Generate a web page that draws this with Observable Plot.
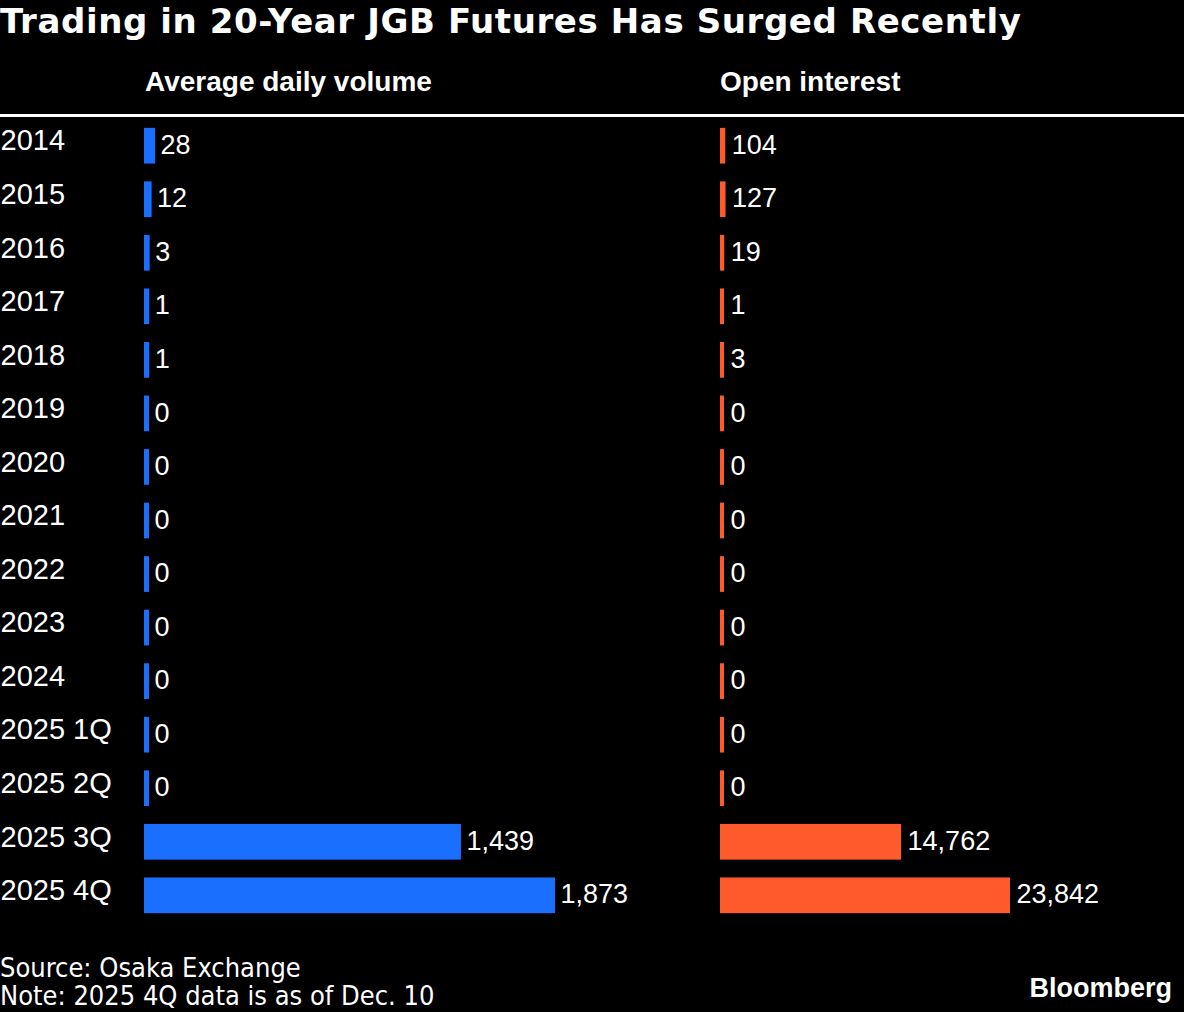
<!DOCTYPE html>
<html>
<head>
<meta charset="utf-8">
<script src="https://cdn.jsdelivr.net/npm/d3@7"></script>
<script src="https://cdn.jsdelivr.net/npm/@observablehq/plot@0.6"></script>
<style>
  html, body { margin: 0; padding: 0; background: #000; overflow: hidden; }
  #root { position: relative; width: 1184px; height: 1012px; background: #000; color: #fff; }
  .abs { position: absolute; white-space: nowrap; line-height: 1; }
  .title { font-family: "DejaVu Sans", sans-serif; font-weight: bold; font-size: 34px; letter-spacing: 0.6px; left: 0; top: 4px; }
  .head { font-family: "Liberation Sans", Arial, sans-serif; font-weight: bold; font-size: 28px; top: 68px; }
  .rule { position: absolute; left: 0; top: 114px; width: 1184px; height: 3px; background: #fff; }
  .foot { font-family: "DejaVu Sans", sans-serif; font-stretch: condensed; font-size: 27px; left: 0; }
  .brand { font-family: "Liberation Sans", Arial, sans-serif; font-weight: bold; font-size: 27px; right: 12px; top: 975px; }
  svg { position: absolute; top: 0; }
</style>
</head>
<body>
<div id="root">
  <div class="abs title">Trading in 20-Year JGB Futures Has Surged Recently</div>
  <div class="abs head" style="left:145px">Average daily volume</div>
  <div class="abs head" style="left:720px">Open interest</div>
  <div class="rule"></div>
  <div id="p1"></div>
  <div id="p2"></div>
  <div class="abs foot" style="top:954px">Source: Osaka Exchange</div>
  <div class="abs foot" style="top:982px">Note: 2025 4Q data is as of Dec. 10</div>
  <div class="abs brand">Bloomberg</div>
</div>
<script>
const categories = ["2014","2015","2016","2017","2018","2019","2020","2021","2022","2023","2024","2025 1Q","2025 2Q","2025 3Q","2025 4Q"];
const volume = [28,12,3,1,1,0,0,0,0,0,0,0,0,1439,1873];
const openInterest = [104,127,19,1,3,0,0,0,0,0,0,0,0,14762,23842];

const volData = categories.map((c, i) => ({cat: c, value: volume[i]}));
const oiData = categories.map((c, i) => ({cat: c, value: openInterest[i]}));

const fmt = d3.format(",");
const numFont = "Liberation Sans, Arial, sans-serif";

function panel(data, color, opts) {
  return Plot.plot({
    width: opts.width,
    height: 940,
    marginTop: 110,
    marginBottom: 9,
    marginLeft: opts.marginLeft,
    marginRight: opts.marginRight,
    style: {background: "transparent", color: "#fff", fontFamily: numFont},
    x: {domain: [0, d3.max(data, d => d.value)], axis: null},
    y: {domain: categories, padding: 0.333, round: false, axis: null},
    marks: [
      Plot.barX(data, {y: "cat", x: "value", fill: color, insetRight: -opts.stub}),
      Plot.text(data, {y: "cat", x: "value", text: d => fmt(d.value), textAnchor: "start", dx: 10, dy: -1, fill: "#fff", fontSize: 27, fontFamily: numFont}),
      ...(opts.showCats ? [Plot.text(data, {y: "cat", text: "cat", frameAnchor: "left", textAnchor: "start", dx: -144, dy: -5, fill: "#fff", fontSize: 29, fontFamily: numFont})] : [])
    ]
  });
}

const p1 = panel(volData, "#1a6fff", {width: 700, marginLeft: 144, marginRight: 150, stub: 5, showCats: true});
p1.style.left = "0px";
document.getElementById("p1").appendChild(p1);

const p2 = panel(oiData, "#ff5a2b", {width: 484, marginLeft: 20, marginRight: 178, stub: 4, showCats: false});
p2.style.left = "700px";
document.getElementById("p2").appendChild(p2);
</script>
</body>
</html>
